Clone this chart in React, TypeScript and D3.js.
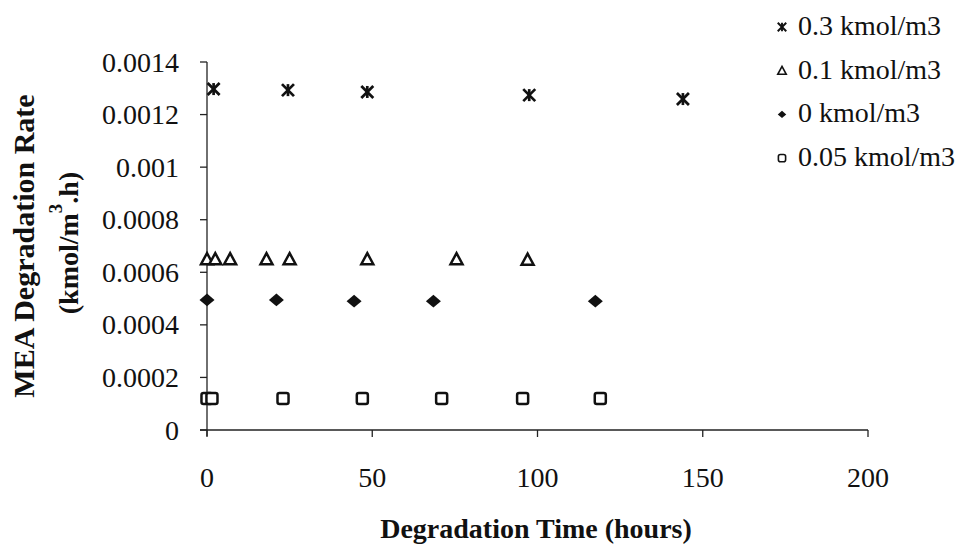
import React from "react";
import * as d3 from "d3";

// Degradation time (hours) and MEA degradation rate (kmol/m3.h) per CO2 loading
const hours03 = [2, 24.5, 48.5, 97.5, 144];
const rate03 = [0.001297, 0.001293, 0.001286, 0.001274, 0.001259];

const hours01 = [0, 2.5, 7, 18, 25, 48.5, 75.5, 97];
const rate01 = [0.00065, 0.00065, 0.00065, 0.00065, 0.00065, 0.00065, 0.00065, 0.000648];

const hours00 = [0, 21, 44.5, 68.5, 117.5];
const rate00 = [0.000495, 0.000495, 0.00049, 0.00049, 0.00049];

const hours005 = [0, 1.5, 23, 47, 71, 95.5, 119];
const rate005 = [0.00012, 0.00012, 0.00012, 0.00012, 0.00012, 0.00012, 0.00012];

const seriesNames = ["0.3 kmol/m3", "0.1 kmol/m3", "0 kmol/m3", "0.05 kmol/m3"];
const xTicks = [0, 50, 100, 150, 200];
const yTicks = [0, 0.0002, 0.0004, 0.0006, 0.0008, 0.001, 0.0012, 0.0014];
const yTickLabels = ["0", "0.0002", "0.0004", "0.0006", "0.0008", "0.001", "0.0012", "0.0014"];

const W = 960;
const H = 544;
const FONT = "'Liberation Serif', 'Times New Roman', serif";

type Shape = "star" | "triangle" | "diamond" | "square";

function Marker({ shape, x, y, s }: { shape: Shape; x: number; y: number; s: number }) {
  const h = s / 2;
  const big = s > 9;
  if (shape === "star") {
    return (
      <g stroke="#111" strokeWidth={big ? 2.7 : 1.9} strokeLinecap="butt">
        <line x1={x - h} y1={y - h} x2={x + h} y2={y + h} />
        <line x1={x - h} y1={y + h} x2={x + h} y2={y - h} />
        <line x1={x} y1={y - h} x2={x} y2={y + h} />
      </g>
    );
  }
  if (shape === "triangle") {
    const p = d3.path();
    p.moveTo(x, y - h);
    p.lineTo(x + h, y + h * 0.85);
    p.lineTo(x - h, y + h * 0.85);
    p.closePath();
    return <path d={p.toString()} fill="#fff" stroke="#111" strokeWidth={big ? 2.5 : 1.6} strokeLinejoin="miter" />;
  }
  if (shape === "diamond") {
    const p = d3.path();
    p.moveTo(x, y - h * 0.85);
    p.lineTo(x + h, y);
    p.lineTo(x, y + h * 0.85);
    p.lineTo(x - h, y);
    p.closePath();
    return <path d={p.toString()} fill="#111" />;
  }
  const q = s * 0.85;
  return (
    <rect x={x - q / 2} y={y - q / 2} width={q} height={q} rx={2} fill="#fff" stroke="#111" strokeWidth={big ? 2.5 : 1.6} />
  );
}

export default function App() {
  const x = d3.scaleLinear().domain([0, 200]).range([207, 868]);
  const y = d3.scaleLinear().domain([0, 0.0014]).range([430, 62]);

  const series: { name: string; shape: Shape; xs: number[]; ys: number[] }[] = [
    { name: seriesNames[0], shape: "star", xs: hours03, ys: rate03 },
    { name: seriesNames[1], shape: "triangle", xs: hours01, ys: rate01 },
    { name: seriesNames[2], shape: "diamond", xs: hours00, ys: rate00 },
    { name: seriesNames[3], shape: "square", xs: hours005, ys: rate005 },
  ];

  const markerSize: Record<Shape, number> = { star: 12, triangle: 12, diamond: 15, square: 13 };

  return (
    <svg
      width={W}
      height={H}
      style={{ position: "absolute", left: 0, top: 0, background: "#fff" }}
      fontFamily={FONT}
    >
      <rect width={W} height={H} fill="#fff" />

      {/* axes */}
      <g stroke="#222" strokeWidth={1.3} fill="none">
        <line x1={x(0)} y1={y(0.0014)} x2={x(0)} y2={y(0) + 6} />
        <line x1={x(0) - 7} y1={y(0)} x2={x(200)} y2={y(0)} />
        {yTicks.map((t) => (
          <line key={"yt" + t} x1={x(0) - 7} y1={y(t)} x2={x(0)} y2={y(t)} />
        ))}
        {xTicks.map((t) => (
          <line key={"xt" + t} x1={x(t)} y1={y(0)} x2={x(t)} y2={y(0) + 7} />
        ))}
      </g>

      {/* y tick labels */}
      <g fontSize={28} fill="#111" textAnchor="end">
        {yTicks.map((t, i) => (
          <text key={"yl" + t} x={179} y={y(t)} dy="0.34em">
            {yTickLabels[i]}
          </text>
        ))}
      </g>

      {/* x tick labels */}
      <g fontSize={28} fill="#111" textAnchor="middle">
        {xTicks.map((t) => (
          <text key={"xl" + t} x={x(t)} y={487}>
            {t}
          </text>
        ))}
      </g>

      {/* axis titles */}
      <text x={536} y={538} fontSize={28} fontWeight="bold" textAnchor="middle" fill="#111">
        Degradation Time (hours)
      </text>
      <text
        transform="translate(34,246) rotate(-90)"
        fontSize={30}
        fontWeight="bold"
        textAnchor="middle"
        fill="#111"
      >
        MEA Degradation Rate
      </text>
      <text
        transform="translate(78,243) rotate(-90)"
        fontSize={28}
        fontWeight="bold"
        textAnchor="middle"
        fill="#111"
      >
        (kmol/m
        <tspan fontSize={19} dy={-16}>3</tspan>
        <tspan dy={16}>.h)</tspan>
      </text>

      {/* data points */}
      {series.map((s) => (
        <g key={s.name}>
          {s.xs.map((h, i) => (
            <Marker key={i} shape={s.shape} x={x(h)} y={y(s.ys[i])} s={markerSize[s.shape]} />
          ))}
        </g>
      ))}

      {/* legend */}
      {series.map((s, i) => {
        const base = 35 + i * 43.7;
        return (
          <g key={"lg" + s.name}>
            <Marker shape={s.shape} x={782} y={base - 8} s={8.5} />
            <text x={798} y={base} fontSize={28} fill="#111">
              {s.name}
            </text>
          </g>
        );
      })}
    </svg>
  );
}
